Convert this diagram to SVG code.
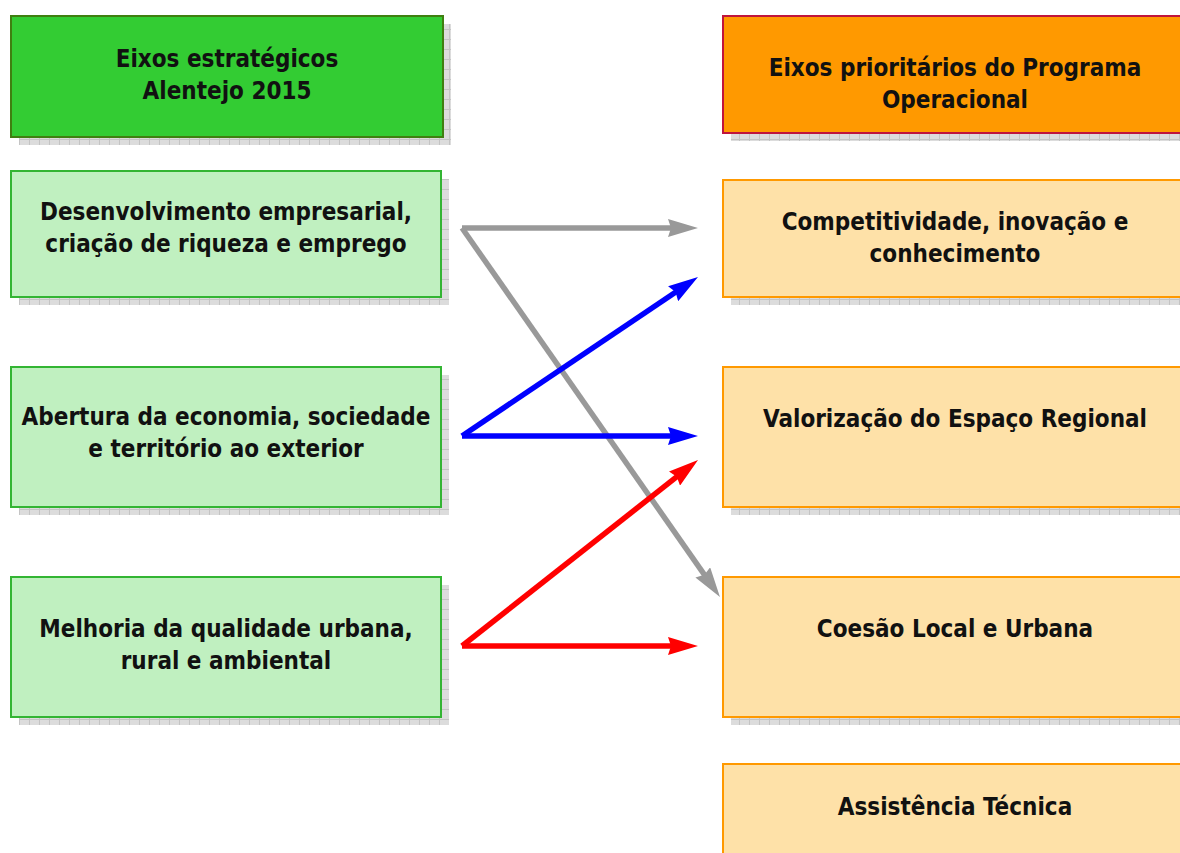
<svg xmlns="http://www.w3.org/2000/svg" width="1180" height="853" viewBox="0 0 1180 853">
<style>
  .t{font-family:"DejaVu Sans Condensed","DejaVu Sans",sans-serif;font-weight:bold;font-size:24px;fill:#111;text-anchor:middle}
  .shadow{fill:url(#hatch)}
  .hdrL{fill:#33cc33;stroke:#3f7f10;stroke-width:2}
  .boxL{fill:#c0f0c0;stroke:#33b533;stroke-width:2}
  .hdrR{fill:#ff9900;stroke:#c0143c;stroke-width:2}
  .boxR{fill:#fee1a8;stroke:#ff9900;stroke-width:2}
  .c{fill:none;stroke-width:5.5}
</style>
<defs>
  <pattern id="hatch" width="10" height="10" patternUnits="userSpaceOnUse">
    <rect width="10" height="10" fill="#dcdcdc"/>
    <path d="M9.5,0V10M0,9.5H10" stroke="#c4c4c4" stroke-width="1"/>
  </pattern>
  <marker id="aG" viewBox="0 0 30 18" refX="10" refY="9" markerWidth="30" markerHeight="18" markerUnits="userSpaceOnUse" orient="auto"><path d="M0,0L30,9L0,18L3,9z" fill="#999999"/></marker>
  <marker id="aB" viewBox="0 0 30 18" refX="10" refY="9" markerWidth="30" markerHeight="18" markerUnits="userSpaceOnUse" orient="auto"><path d="M0,0L30,9L0,18L3,9z" fill="#0000ff"/></marker>
  <marker id="aR" viewBox="0 0 30 18" refX="10" refY="9" markerWidth="30" markerHeight="18" markerUnits="userSpaceOnUse" orient="auto"><path d="M0,0L30,9L0,18L3,9z" fill="#ff0000"/></marker>
</defs>
<rect width="1180" height="853" fill="#ffffff"/>

<g id="hdr-left">
  <rect class="shadow" x="19" y="24" width="432" height="121"/>
  <rect class="hdrL" x="11" y="16" width="432" height="121"/>
  <text class="t" x="227" y="67">Eixos estratégicos</text>
  <text class="t" x="227" y="99">Alentejo 2015</text>
</g>
<g id="left-1">
  <rect class="shadow" x="19" y="179" width="430" height="126"/>
  <rect class="boxL" x="11" y="171" width="430" height="126"/>
  <text class="t" x="226" y="220">Desenvolvimento empresarial,</text>
  <text class="t" x="226" y="252">criação de riqueza e emprego</text>
</g>
<g id="left-2">
  <rect class="shadow" x="19" y="375" width="430" height="140"/>
  <rect class="boxL" x="11" y="367" width="430" height="140"/>
  <text class="t" x="226" y="425">Abertura da economia, sociedade</text>
  <text class="t" x="226" y="457">e território ao exterior</text>
</g>
<g id="left-3">
  <rect class="shadow" x="19" y="585" width="430" height="140"/>
  <rect class="boxL" x="11" y="577" width="430" height="140"/>
  <text class="t" x="226" y="637">Melhoria da qualidade urbana,</text>
  <text class="t" x="226" y="669">rural e ambiental</text>
</g>

<g id="hdr-right">
  <rect class="shadow" x="731" y="24" width="470" height="117"/>
  <rect class="hdrR" x="723" y="16" width="470" height="117"/>
  <text class="t" x="955" y="76">Eixos prioritários do Programa</text>
  <text class="t" x="955" y="108">Operacional</text>
</g>
<g id="right-1">
  <rect class="shadow" x="731" y="188" width="470" height="117"/>
  <rect class="boxR" x="723" y="180" width="470" height="117"/>
  <text class="t" x="955" y="230">Competitividade, inovação e</text>
  <text class="t" x="955" y="262">conhecimento</text>
</g>
<g id="right-2">
  <rect class="shadow" x="731" y="375" width="470" height="140"/>
  <rect class="boxR" x="723" y="367" width="470" height="140"/>
  <text class="t" x="955" y="427">Valorização do Espaço Regional</text>
</g>
<g id="right-3">
  <rect class="shadow" x="731" y="585" width="470" height="140"/>
  <rect class="boxR" x="723" y="577" width="470" height="140"/>
  <text class="t" x="955" y="637">Coesão Local e Urbana</text>
</g>
<g id="right-4">
  <rect class="boxR" x="723" y="764" width="470" height="120"/>
  <text class="t" x="955" y="815">Assistência Técnica</text>
</g>

<g id="connectors">
  <path class="c" stroke="#999999" d="M462,228L678,228" marker-end="url(#aG)"/>
  <path class="c" stroke="#999999" d="M462,228L708.5,580.6" marker-end="url(#aG)"/>
  <path class="c" stroke="#0000ff" d="M462,436L681.4,288.2" marker-end="url(#aB)"/>
  <path class="c" stroke="#0000ff" d="M462,436L678,436" marker-end="url(#aB)"/>
  <path class="c" stroke="#ff0000" d="M462,646L682.3,472.4" marker-end="url(#aR)"/>
  <path class="c" stroke="#ff0000" d="M462,646L678,646" marker-end="url(#aR)"/>
</g>
</svg>
